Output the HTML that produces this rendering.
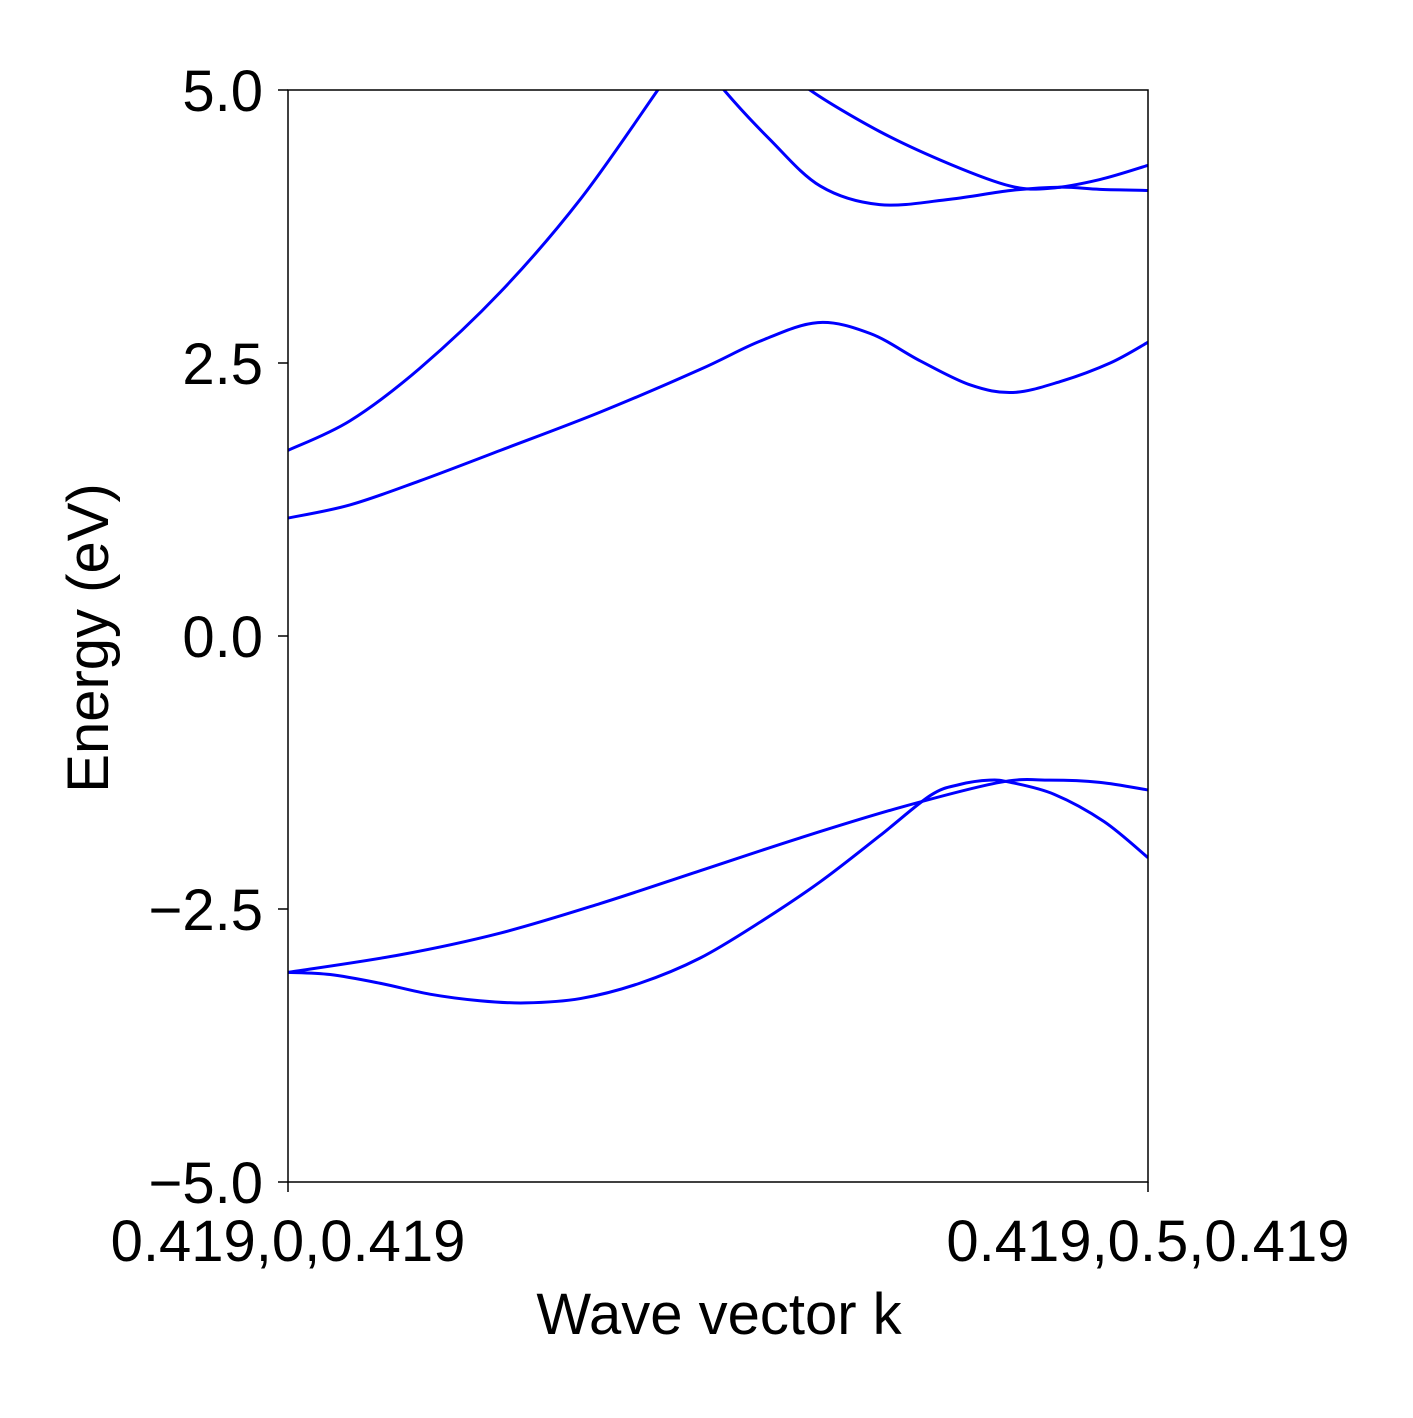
<!DOCTYPE html>
<html><head><meta charset="utf-8"><style>
html,body{margin:0;padding:0;background:#fff;}
svg text{font-family:"Liberation Sans",Arial,sans-serif;fill:#000;}
</style></head><body>
<svg id="chart" width="1413" height="1413" viewBox="0 0 1413 1413" xmlns="http://www.w3.org/2000/svg">
<defs><clipPath id="clip"><rect x="288" y="90" width="860" height="1092"/></clipPath></defs>
<rect x="0" y="0" width="1413" height="1413" fill="#fff"/>
<g id="bands" clip-path="url(#clip)"></g>
<rect x="288" y="90" width="860" height="1092" fill="none" stroke="#000" stroke-width="1.5"/>
<g id="axes"></g>
<text x="0" y="0" font-size="58" text-anchor="middle" transform="translate(108,638) rotate(-90)">Energy (eV)</text>
<text x="719" y="1334" font-size="58" text-anchor="middle">Wave vector k</text>
</svg>
<script>
const yTicks = [5.0, 2.5, 0.0, -2.5, -5.0];
const yTickLabels = ["5.0", "2.5", "0.0", "\u22122.5", "\u22125.0"];
const xTicks = [0, 1];
const xTickLabels = ["0.419,0,0.419", "0.419,0.5,0.419"];
const band1K = [0,0.049,0.107,0.165,0.223,0.276,0.340,0.409,0.479,0.549,0.619,0.688,0.747,0.781,0.816,0.840,0.891,0.949,1];
const band1E = [-3.08,-3.10,-3.18,-3.28,-3.34,-3.36,-3.32,-3.18,-2.95,-2.62,-2.25,-1.83,-1.46,-1.36,-1.32,-1.34,-1.45,-1.70,-2.03];
const band2K = [0,0.130,0.247,0.363,0.479,0.595,0.712,0.828,0.886,0.944,1];
const band2E = [-3.08,-2.92,-2.72,-2.45,-2.15,-1.85,-1.57,-1.34,-1.32,-1.34,-1.41];
const band3K = [0,0.072,0.153,0.247,0.363,0.479,0.549,0.616,0.677,0.735,0.793,0.843,0.898,0.956,1];
const band3E = [1.08,1.20,1.42,1.70,2.05,2.44,2.70,2.87,2.77,2.52,2.30,2.23,2.33,2.50,2.69];
const band4K = [0,0.072,0.153,0.247,0.340,0.430,0.456,0.479,0.507,0.560,0.619,0.688,0.770,0.840,0.898,0.944,1];
const band4E = [1.70,1.97,2.45,3.15,4.00,5.0,5.3,5.3,5.0,4.55,4.12,3.95,4.00,4.08,4.11,4.09,4.08];
const band5K = [0.584,0.607,0.688,0.770,0.840,0.886,0.944,1];
const band5E = [5.2,5.0,4.62,4.32,4.12,4.10,4.18,4.31];

const X0=288,X1=1148,Y0=90,Y1=1182,EMAX=5,EMIN=-5;
const xs = k => X0 + k*(X1-X0);
const ys = e => Y0 + (EMAX-e)/(EMAX-EMIN)*(Y1-Y0);
const NS="http://www.w3.org/2000/svg";
function pathFor(K,E){
  const p=K.map((k,i)=>[xs(k),ys(E[i])]);
  let d=`M${p[0][0]},${p[0][1]}`;
  for(let i=0;i<p.length-1;i++){
    const a=p[Math.max(0,i-1)],b=p[i],c=p[i+1],e=p[Math.min(p.length-1,i+2)];
    const c1=[b[0]+(c[0]-a[0])/6,b[1]+(c[1]-a[1])/6];
    const c2=[c[0]-(e[0]-b[0])/6,c[1]-(e[1]-b[1])/6];
    d+=` C${c1[0]},${c1[1]} ${c2[0]},${c2[1]} ${c[0]},${c[1]}`;
  }
  return d;
}
const g=document.getElementById('bands');
[[band1K,band1E],[band2K,band2E],[band3K,band3E],[band4K,band4E],[band5K,band5E]].forEach((b,i)=>{
  const el=document.createElementNS(NS,'path');
  el.setAttribute('d',pathFor(b[0],b[1]));
  el.setAttribute('fill','none');el.setAttribute('stroke','#0000ff');el.setAttribute('stroke-width','3');
  
  
  g.appendChild(el);
});
const ax=document.getElementById('axes');
yTicks.forEach((v,i)=>{
  const t=document.createElementNS(NS,'line');
  t.setAttribute('x1',X0-10);t.setAttribute('x2',X0);t.setAttribute('y1',ys(v));t.setAttribute('y2',ys(v));
  t.setAttribute('stroke','#000');t.setAttribute('stroke-width','1.5');
  
  
  ax.appendChild(t);
  const tx=document.createElementNS(NS,'text');
  tx.setAttribute('x',263);tx.setAttribute('y',ys(v)+21);tx.setAttribute('font-size','58');tx.setAttribute('text-anchor','end');
  tx.textContent=yTickLabels[i];
  
  
  ax.appendChild(tx);
});
xTicks.forEach((v,i)=>{
  const t=document.createElementNS(NS,'line');
  t.setAttribute('x1',xs(v));t.setAttribute('x2',xs(v));t.setAttribute('y1',Y1);t.setAttribute('y2',Y1+10);
  t.setAttribute('stroke','#000');t.setAttribute('stroke-width','1.5');
  
  
  ax.appendChild(t);
  const tx=document.createElementNS(NS,'text');
  tx.setAttribute('x',xs(v));tx.setAttribute('y',1261);tx.setAttribute('font-size','58');tx.setAttribute('text-anchor','middle');
  tx.textContent=xTickLabels[i];
  
  
  ax.appendChild(tx);
});
</script>
</body></html>
